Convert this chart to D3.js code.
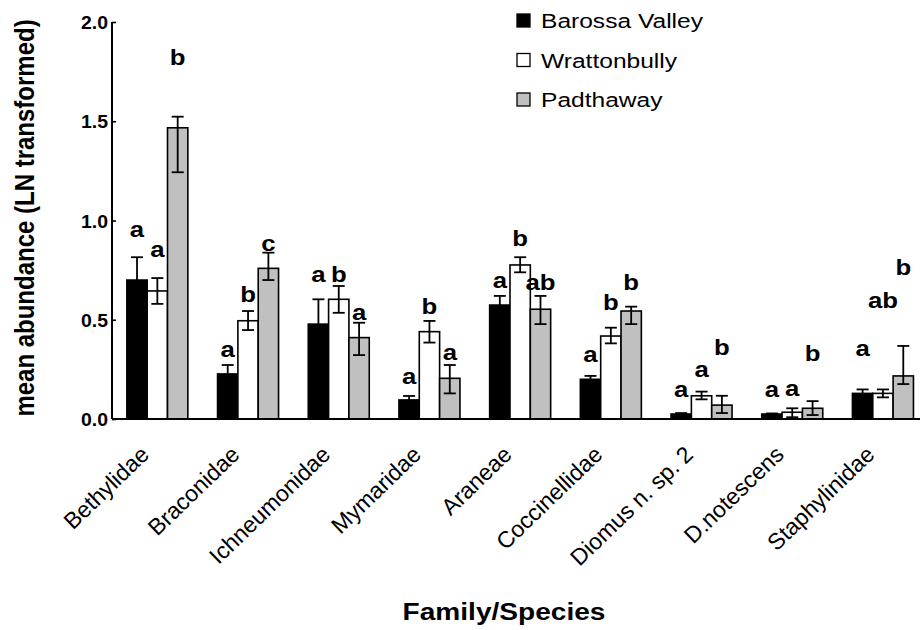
<!DOCTYPE html>
<html>
<head>
<meta charset="utf-8">
<script src="https://cdn.jsdelivr.net/npm/d3@7"></script>
<style>
  html, body { margin: 0; padding: 0; background: #fff; }
  svg { display: block; }
  text { font-family: "Liberation Sans", Arial, sans-serif; fill: #000; }
</style>
</head>
<body>
<svg id="chart" width="920" height="630"></svg>
<script>
// Categories (family / species)
const categories = ["Bethylidae", "Braconidae", "Ichneumonidae", "Mymaridae", "Araneae",
  "Coccinellidae", "Diomus n. sp. 2", "D.notescens", "Staphylinidae"];

// Series names
const seriesNames = ["Barossa Valley", "Wrattonbully", "Padthaway"];

// Mean abundance (LN transformed)
const barossa = [0.70, 0.227, 0.478, 0.096, 0.574, 0.200, 0.025, 0.025, 0.129];
const wrattonbully = [0.645, 0.495, 0.603, 0.440, 0.776, 0.418, 0.117, 0.034, 0.129];
const padthaway = [1.467, 0.759, 0.410, 0.205, 0.553, 0.544, 0.070, 0.054, 0.217];

// Error bar extents above / below each mean
const barossaErrUp = [0.115, 0.045, 0.125, 0.020, 0.046, 0.017, 0.005, 0.003, 0.020];
const barossaErrDown = [0.115, 0.045, 0.125, 0.020, 0.046, 0.017, 0.005, 0.003, 0.020];
const wrattonbullyErrUp = [0.065, 0.049, 0.067, 0.054, 0.039, 0.042, 0.021, 0.020, 0.020];
const wrattonbullyErrDown = [0.065, 0.047, 0.068, 0.055, 0.037, 0.037, 0.018, 0.025, 0.020];
const padthawayErrUp = [0.056, 0.079, 0.075, 0.067, 0.067, 0.022, 0.047, 0.036, 0.151];
const padthawayErrDown = [0.224, 0.059, 0.088, 0.076, 0.075, 0.066, 0.040, 0.034, 0.041];

// Significance letters and the level (in data units) where each one sits
const barossaLetters = ["a", "a", "a", "a", "a", "a", "a", "a", "a"];
const wrattonbullyLetters = ["a", "b", "b", "b", "b", "b", "a", "a", "ab"];
const padthawayLetters = ["b", "c", "a", "a", "ab", "b", "b", "b", "b"];
const barossaLetterAt = [0.952, 0.348, 0.725, 0.213, 0.697, 0.322, 0.146, 0.146, 0.351];
const wrattonbullyLetterAt = [0.851, 0.625, 0.725, 0.566, 0.905, 0.586, 0.247, 0.151, 0.596];
const padthawayLetterAt = [1.817, 0.882, 0.534, 0.331, 0.684, 0.684, 0.356, 0.327, 0.760];

// Y-axis ticks
const yTicks = [0, 0.5, 1.0, 1.5, 2.0];

const fills = ["#000000", "#ffffff", "#c0c0c0"];
const SX = 1.17; // horizontal text stretch

const series = [
  { name: seriesNames[0], values: barossa, up: barossaErrUp, down: barossaErrDown, letters: barossaLetters, letterAt: barossaLetterAt },
  { name: seriesNames[1], values: wrattonbully, up: wrattonbullyErrUp, down: wrattonbullyErrDown, letters: wrattonbullyLetters, letterAt: wrattonbullyLetterAt },
  { name: seriesNames[2], values: padthaway, up: padthawayErrUp, down: padthawayErrDown, letters: padthawayLetters, letterAt: padthawayLetterAt }
];

const svg = d3.select("#chart");

const plotLeft = 112, plotTop = 22, plotBottom = 419;
const bandW = 90.7;

const x0 = d3.scaleBand().domain(categories)
  .range([plotLeft, plotLeft + bandW * categories.length]).padding(0);
const groupW = 61;
const x1 = d3.scaleBand().domain(seriesNames)
  .range([(x0.bandwidth() - groupW) / 2, (x0.bandwidth() + groupW) / 2]).padding(0);
const y = d3.scaleLinear().domain([0, 2]).range([plotBottom, plotTop]);

// Bars, error bars and letters for each series
const groups = svg.append("g").selectAll("g")
  .data(series).join("g");

groups.each(function (s, si) {
  const g = d3.select(this);
  const rows = categories.map((c, i) => ({
    cat: c, v: s.values[i], up: s.up[i], down: s.down[i],
    letter: s.letters[i], at: s.letterAt[i]
  }));
  const cx = d => x0(d.cat) + x1(s.name) + x1.bandwidth() / 2;

  g.selectAll("rect").data(rows).join("rect")
    .attr("x", d => x0(d.cat) + x1(s.name))
    .attr("y", d => y(d.v))
    .attr("width", x1.bandwidth())
    .attr("height", d => y(0) - y(d.v))
    .attr("fill", fills[si])
    .attr("stroke", "#000")
    .attr("stroke-width", 1.6);

  const eb = g.selectAll("g.err").data(rows).join("g").attr("class", "err")
    .attr("stroke", "#000").attr("stroke-width", 1.8);
  eb.append("line")
    .attr("x1", cx).attr("x2", cx)
    .attr("y1", d => y(d.v + d.up)).attr("y2", d => y(Math.max(0, d.v - d.down)));
  eb.append("line")
    .attr("x1", d => cx(d) - 6).attr("x2", d => cx(d) + 6)
    .attr("y1", d => y(d.v + d.up)).attr("y2", d => y(d.v + d.up));
  eb.append("line")
    .attr("x1", d => cx(d) - 6).attr("x2", d => cx(d) + 6)
    .attr("y1", d => y(Math.max(0, d.v - d.down))).attr("y2", d => y(Math.max(0, d.v - d.down)));

  g.selectAll("text.letter").data(rows).join("text").attr("class", "letter")
    .attr("transform", d => `translate(${cx(d)},${y(d.at)}) scale(${SX},1)`)
    .attr("text-anchor", "middle")
    .attr("dy", "0.32em")
    .style("font-size", "22px").style("font-weight", "bold")
    .text(d => d.letter);
});

// Y axis
const yAxis = d3.axisLeft(y).tickValues(yTicks).tickSize(-4).tickPadding(0)
  .tickFormat(d3.format(".1f"));
const ya = svg.append("g").attr("transform", `translate(${plotLeft},0)`).call(yAxis);
ya.attr("font-size", null).attr("font-family", null);
ya.select(".domain").attr("stroke", "#000").attr("stroke-width", 2).attr("d", `M0,${plotTop}V${plotBottom}`);
ya.selectAll(".tick line").attr("stroke", "#000").attr("stroke-width", 1.6);
ya.selectAll(".tick text")
  .attr("x", null).attr("dy", null)
  .attr("transform", `translate(-4,6.5) scale(1.08,1)`)
  .attr("text-anchor", "end")
  .style("font-size", "18px").style("font-weight", "bold");

// X axis
const xAxis = d3.axisBottom(x0).tickSize(0).tickFormat("");
const xa = svg.append("g").attr("transform", `translate(0,${plotBottom})`).call(xAxis);
xa.select(".domain").attr("stroke", "#000").attr("stroke-width", 2)
  .attr("d", `M${plotLeft},0H${x0.range()[1]}`);

// Category labels
svg.append("g").selectAll("text").data(categories).join("text")
  .attr("transform", d => `translate(${x0(d) + x0.bandwidth() / 2 - 7},456) rotate(-44)`)
  .attr("text-anchor", "end")
  .style("font-size", "23px")
  .text(d => d);

// Axis titles
svg.append("text")
  .attr("transform", `translate(504,620) scale(${SX},1)`)
  .attr("text-anchor", "middle")
  .style("font-size", "24px").style("font-weight", "bold")
  .text("Family/Species");

svg.append("text")
  .attr("transform", `translate(34,218) scale(${SX},1) rotate(-90)`)
  .attr("text-anchor", "middle")
  .style("font-size", "24px").style("font-weight", "bold")
  .text("mean abundance (LN transformed)");

// Legend
const legend = svg.append("g").selectAll("g").data(seriesNames).join("g")
  .attr("transform", (d, i) => `translate(517,${14 + i * 39.5})`);
legend.append("rect")
  .attr("width", 13).attr("height", 13)
  .attr("fill", (d, i) => fills[i])
  .attr("stroke", "#000").attr("stroke-width", 1.3);
legend.append("text")
  .attr("transform", `translate(24,14) scale(${SX},1)`)
  .style("font-size", "21px")
  .text(d => d);
</script>
</body>
</html>
